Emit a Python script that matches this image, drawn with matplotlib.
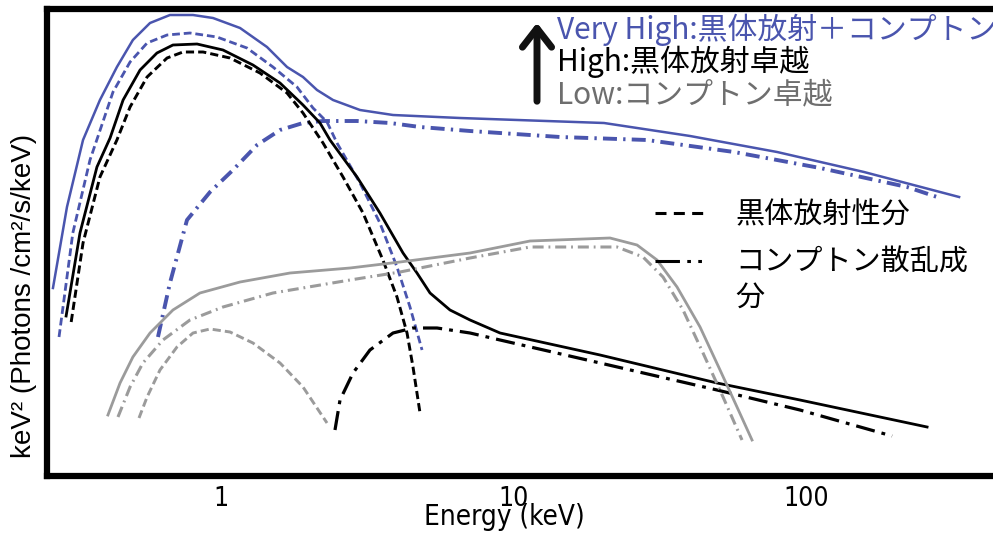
import numpy as np
import matplotlib
matplotlib.use('Agg')
import matplotlib.pyplot as plt
from matplotlib.lines import Line2D
from matplotlib.patches import FancyArrowPatch

plt.rcParams['font.family'] = ['Noto Sans CJK JP', 'DejaVu Sans']

# energies in keV, flux in arbitrary log units (the original has no y ticks)
vh_total_e = [0.266, 0.297, 0.337, 0.385, 0.440, 0.499, 0.571, 0.668, 0.801, 0.9375, 1.160, 1.434,
              1.679, 1.904, 2.126, 2.411, 2.982, 3.867, 6.552, 20.36, 40.07, 79.5, 157.6, 333.1]
vh_total_f = [1.88, 2.69, 3.36, 3.76, 4.09, 4.36, 4.53, 4.61, 4.61, 4.58, 4.48, 4.29,
              4.09, 3.99, 3.86, 3.76, 3.66, 3.61, 3.58, 3.53, 3.40, 3.24, 3.04, 2.79]

vh_bb_e = [0.279, 0.311, 0.356, 0.4267, 0.488, 0.558, 0.653, 0.782, 0.967, 1.225,
           1.503, 1.816, 2.060, 2.300, 2.488, 2.982, 3.488, 3.990, 4.420, 4.860]
vh_bb_f = [1.39, 2.43, 3.16, 3.84, 4.14, 4.33, 4.41, 4.43, 4.39, 4.28,
           4.09, 3.89, 3.68, 3.54, 3.33, 2.93, 2.53, 2.09, 1.69, 1.26]

vh_comp_e = [0.6079, 0.668, 0.712, 0.764, 0.916, 1.097, 1.326, 1.589, 1.904, 2.229,
             2.913, 3.777, 4.783, 7.090, 14.40, 28.56, 56.65, 111.5, 221.2, 280.1]
vh_comp_f = [1.39, 1.93, 2.23, 2.56, 2.84, 3.06, 3.31, 3.46, 3.53, 3.55,
             3.55, 3.53, 3.49, 3.45, 3.39, 3.36, 3.24, 3.08, 2.89, 2.79]

h_total_e = [0.295, 0.329, 0.376, 0.417, 0.462, 0.528, 0.603, 0.684, 0.827, 1.0143, 1.284,
             1.589, 1.904, 2.177, 2.355, 2.913, 3.488, 4.184, 4.670, 5.175, 6.056, 7.090,
             8.98, 19.73, 49.55, 95.2, 258.9]
h_total_f = [1.60, 2.43, 3.09, 3.38, 3.76, 4.06, 4.23, 4.31, 4.32, 4.26, 4.11,
             3.93, 3.71, 3.53, 3.36, 2.99, 2.63, 2.23, 2.03, 1.83, 1.66, 1.56,
             1.43, 1.21, 0.93, 0.76, 0.49]

h_bb_e = [0.307, 0.337, 0.385, 0.440, 0.488, 0.558, 0.653, 0.7404, 0.867, 1.0718, 1.357,
          1.679, 1.904, 2.229, 2.609, 3.054, 3.571, 3.990, 4.318, 4.526, 4.783]
h_bb_f = [1.54, 2.33, 2.99, 3.36, 3.69, 3.99, 4.18, 4.24, 4.24, 4.18, 4.03,
          3.83, 3.63, 3.33, 2.99, 2.63, 2.16, 1.79, 1.43, 1.09, 0.63]

h_comp_e = [2.449, 2.548, 2.822, 3.225, 3.867, 4.526, 5.469, 7.090, 8.98, 19.73, 49.55, 95.2, 196.6]
h_comp_f = [0.46, 0.76, 1.03, 1.26, 1.43, 1.48, 1.48, 1.43, 1.36, 1.13, 0.86, 0.66, 0.40]

l_total_e = [0.410, 0.451, 0.499, 0.571, 0.684, 0.846, 1.160, 1.719, 2.757, 4.087, 7.090,
             11.37, 21.34, 26.40, 30.90, 36.17, 43.35, 50.74, 57.99, 65.26]
l_total_f = [0.61, 0.93, 1.19, 1.43, 1.66, 1.83, 1.94, 2.03, 2.08, 2.14, 2.23,
             2.35, 2.38, 2.31, 2.16, 1.89, 1.49, 1.06, 0.69, 0.36]

l_comp_e = [0.4437, 0.488, 0.540, 0.632, 0.782, 1.0143, 1.503, 2.757, 4.087, 7.090, 11.37,
            22.55, 27.67, 32.39, 37.92, 44.38, 51.95, 60.32]
l_comp_f = [0.59, 0.89, 1.13, 1.36, 1.56, 1.69, 1.83, 1.96, 2.04, 2.18, 2.29,
            2.29, 2.19, 1.99, 1.66, 1.23, 0.79, 0.36]

l_bb_e = [0.5236, 0.558, 0.6176, 0.706, 0.801, 0.916, 1.0718, 1.284, 1.589, 1.904, 2.300]
l_bb_f = [0.58, 0.79, 1.06, 1.29, 1.43, 1.47, 1.44, 1.33, 1.13, 0.89, 0.53]

xticks = [1, 10, 100]
xtick_labels = ['1', '10', '100']

blue = '#4a55ae'
gray = '#9b9b9b'

dash = (0, (2.8, 1.4))
dashdot = (0, (3.6, 1.6, 0.6, 1.6))
dashdot_k = (0, (6, 2.2, 1.2, 2.2))
rnd = dict(solid_joinstyle='round', dash_joinstyle='round')

fig = plt.figure(figsize=(9.93, 5.34), dpi=100)
ax = fig.add_axes([47/993, 58/534, 1 - 47/993, 467.5/534])

ax.plot(vh_total_e, vh_total_f, color=blue, lw=1.8, **rnd)
ax.plot(vh_bb_e, vh_bb_f, color=blue, lw=2.0, linestyle=dash, **rnd)
ax.plot(vh_comp_e, vh_comp_f, color=blue, lw=2.8, linestyle=dashdot, **rnd)

ax.plot(h_total_e, h_total_f, color='black', lw=2.0, **rnd)
ax.plot(h_bb_e, h_bb_f, color='black', lw=2.1, linestyle=dash, **rnd)
ax.plot(h_comp_e, h_comp_f, color='black', lw=2.3, linestyle=dashdot_k, **rnd)

ax.plot(l_total_e, l_total_f, color=gray, lw=2.0, **rnd)
ax.plot(l_comp_e, l_comp_f, color=gray, lw=2.2, linestyle=dashdot, **rnd)
ax.plot(l_bb_e, l_bb_f, color=gray, lw=2.1, linestyle=dash, **rnd)

ax.set_xscale('log')
ax.set_xlim(0.2538, 435)
ax.set_ylim(0, 4.675)
ax.set_xticks(xticks)
ax.set_xticklabels(xtick_labels)
ax.xaxis.set_minor_locator(matplotlib.ticker.NullLocator())
ax.set_yticks([])
ax.tick_params(axis='x', length=0, pad=7, labelsize=19)
for lab in ax.get_xticklabels():
    lab.set_family('DejaVu Sans')
    lab.set_stretch('condensed')

for s in ['left', 'top', 'bottom']:
    ax.spines[s].set_linewidth(4.5)
ax.spines['right'].set_visible(False)

ax.set_xlabel('Energy (keV)', fontsize=20, family='DejaVu Sans', fontstretch='condensed', va='center')
ax.xaxis.set_label_coords(0.484, -0.088)
ax.set_ylabel('keV² (Photons /cm²/s/keV)', fontsize=20, family=['Liberation Sans', 'DejaVu Sans'],
              va='center')
ax.yaxis.set_label_coords(-0.024, 0.385)

# legend for the component line styles
handles = [Line2D([], [], color='black', lw=2.2, linestyle=(0, (3.6, 2.4))),
           Line2D([], [], color='black', lw=2.2, linestyle=(0, (8, 2.4, 1.2, 2.4, 1.2, 8)))]
fig.legend(handles, ['黒体放射性分', 'コンプトン散乱成'], loc='upper left',
           bbox_to_anchor=(655/993, 1 - 200/534), frameon=False, fontsize=21,
           handlelength=1.75, handletextpad=1.0, labelspacing=0.62,
           borderpad=0, borderaxespad=0)
fig.text(735/993, 1 - 298/534, '分', fontsize=21, va='center')

# state annotation
fig.text(557/993, 1 - 30/534, 'Very High:黒体放射＋コンプトン', color=blue, fontsize=21.5, va='center')
fig.text(557/993, 1 - 62/534, 'High:黒体放射卓越', color='black', fontsize=21.5, va='center')
fig.text(557/993, 1 - 95/534, 'Low:コンプトン卓越', color='#6e6e6e', fontsize=21.5, va='center')
fig.add_artist(FancyArrowPatch(
    (537/993, 1 - 104/534), (537/993, 1 - 20/534), transform=fig.transFigure,
    arrowstyle='->,head_length=0.45,head_width=0.35', mutation_scale=30, lw=5, color='#111111'))

fig.savefig('out.png', dpi=100)
